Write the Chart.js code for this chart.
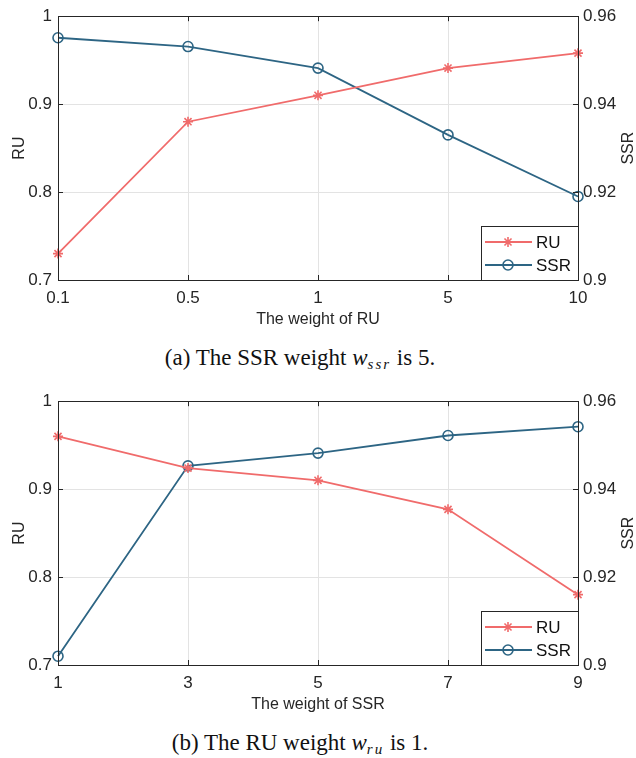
<!DOCTYPE html>
<html>
<head>
<meta charset="utf-8">
<script src="https://cdn.jsdelivr.net/npm/chart.js@4"></script>
<style>
  html, body { margin: 0; padding: 0; background: #fff; }
  body { width: 636px; height: 758px; position: relative; overflow: hidden; }
  .panel { position: absolute; left: 0; width: 636px; height: 385px; }
  .panel canvas { position: absolute; left: 0; top: 0; }
  .cap { position: absolute; left: 0; width: 600px; top: 344px; text-align: center;
         font-family: 'Liberation Serif', 'Times New Roman', serif; font-size: 23px; color: #111; line-height: 28px; }
  .cap i { font-style: italic; }
  .cap sub { font-size: 15px; vertical-align: -4px; line-height: 0; letter-spacing: 2px; }
</style>
</head>
<body>
<div class="panel" style="top:0px">
  <canvas id="cA" width="636" height="335"></canvas>
  <div class="cap">(a) The SSR weight <i>w</i><sub><i>ssr</i></sub> is 5.</div>
</div>
<div class="panel" style="top:385px">
  <canvas id="cB" width="636" height="335"></canvas>
  <div class="cap">(b) The RU weight <i>w</i><sub><i>ru</i></sub> is 1.</div>
</div>
<script>
// ---- data ----
const catsA = ['0.1', '0.5', '1', '5', '10'];
const ruA   = [0.730, 0.880, 0.910, 0.941, 0.958];
const ssrA  = [0.9551, 0.9531, 0.9482, 0.9330, 0.9190];

const catsB = ['1', '3', '5', '7', '9'];
const ruB   = [0.960, 0.924, 0.910, 0.877, 0.780];
const ssrB  = [0.9020, 0.9453, 0.9482, 0.9522, 0.9542];

const xTitleA = 'The weight of RU';
const xTitleB = 'The weight of SSR';
const leftTitle = 'RU';
const rightTitle = 'SSR';
const seriesNames = ['RU', 'SSR'];

// ---- styles ----
const RED = '#f06b6b';
const BLUE = '#2d6584';
const AXIS = '#262626';
const GRID = '#e3e3e3';
const TICKFONT = "'Liberation Sans', Arial, sans-serif";
const TITLEFONT = "'Liberation Sans', Arial, sans-serif";

const fmt = v => String(parseFloat(Number(v).toFixed(2)));

const decor = {
  id: 'decor',
  afterDraw(chart, args, opts) {
    const ctx = chart.ctx;
    const a = chart.chartArea;
    const x = chart.scales.x, yl = chart.scales.y, yr = chart.scales.y1;
    ctx.save();
    // box
    ctx.strokeStyle = AXIS;
    ctx.lineWidth = 1;
    ctx.strokeRect(Math.round(a.left) + 0.5, Math.round(a.top) + 0.5,
                   Math.round(a.right - a.left), Math.round(a.bottom - a.top));
    // inward ticks
    const tl = 5;
    ctx.beginPath();
    x.ticks.forEach((t, i) => {
      const px = Math.round(x.getPixelForTick(i)) + 0.5;
      ctx.moveTo(px, a.bottom); ctx.lineTo(px, a.bottom - tl);
      ctx.moveTo(px, a.top); ctx.lineTo(px, a.top + tl);
    });
    yl.ticks.forEach(t => {
      const py = Math.round(yl.getPixelForValue(t.value)) + 0.5;
      ctx.moveTo(a.left, py); ctx.lineTo(a.left + tl, py);
    });
    yr.ticks.forEach(t => {
      const py = Math.round(yr.getPixelForValue(t.value)) + 0.5;
      ctx.moveTo(a.right, py); ctx.lineTo(a.right - tl, py);
    });
    ctx.stroke();

    // titles
    ctx.fillStyle = '#262626';
    ctx.font = '16px ' + TITLEFONT;
    ctx.textAlign = 'center';
    ctx.textBaseline = 'middle';
    ctx.fillText(opts.xTitle, (a.left + a.right) / 2, a.bottom + 40);
    ctx.font = '16px ' + TITLEFONT;
    const cy = (a.top + a.bottom) / 2;
    ctx.save(); ctx.translate(20, cy); ctx.rotate(-Math.PI / 2);
    ctx.fillText(leftTitle, 0, 0); ctx.restore();
    ctx.save(); ctx.translate(629, cy); ctx.rotate(-Math.PI / 2);
    ctx.fillText(rightTitle, 0, 0); ctx.restore();

    // legend box
    const bx = a.right - 97, by = a.bottom - 54, bw = 97, bh = 54;
    ctx.fillStyle = '#fff';
    ctx.fillRect(bx, by, bw, bh);
    ctx.strokeStyle = AXIS;
    ctx.strokeRect(Math.round(bx) + 0.5, Math.round(by) + 0.5, bw, bh);
    const rows = [by + 16, by + 39];
    chart.data.datasets.forEach((ds, i) => {
      const ry = rows[i];
      ctx.strokeStyle = ds.borderColor;
      ctx.lineWidth = ds.borderWidth;
      ctx.beginPath(); ctx.moveTo(bx + 4, ry); ctx.lineTo(bx + 51, ry); ctx.stroke();
      ctx.fillStyle = ds.pointBackgroundColor;
      ctx.strokeStyle = ds.pointBorderColor;
      ctx.lineWidth = ds.pointBorderWidth;
      Chart.helpers.drawPoint(ctx, {
        pointStyle: ds.pointStyle, radius: ds.pointRadius, rotation: 0,
        borderWidth: ds.pointBorderWidth
      }, bx + 27, ry);
      ctx.fillStyle = '#111';
      ctx.font = '17px ' + TICKFONT;
      ctx.textAlign = 'left';
      ctx.textBaseline = 'middle';
      ctx.fillText(ds.label, bx + 55, ry + 1);
    });
    ctx.restore();
  }
};

function makeChart(id, cats, ru, ssr, xTitle) {
  return new Chart(document.getElementById(id), {
    type: 'line',
    data: {
      labels: cats,
      datasets: [
        { label: seriesNames[0], data: ru, yAxisID: 'y', borderColor: RED, backgroundColor: RED,
          borderWidth: 1.8, pointStyle: 'star', pointRadius: 5, pointBorderWidth: 1.6,
          pointBorderColor: RED, pointBackgroundColor: RED, tension: 0 },
        { label: seriesNames[1], data: ssr, yAxisID: 'y1', borderColor: BLUE, backgroundColor: 'rgba(0,0,0,0)',
          borderWidth: 1.8, pointStyle: 'circle', pointRadius: 5, pointBorderWidth: 1.6,
          pointBorderColor: BLUE, pointBackgroundColor: 'rgba(0,0,0,0)', tension: 0 }
      ]
    },
    options: {
      responsive: false,
      animation: false,
      clip: false,
      layout: { padding: { top: 13, left: 0, right: 0, bottom: 0 } },
      plugins: { legend: { display: false }, tooltip: { enabled: false }, decor: { xTitle } },
      scales: {
        x: {
          type: 'category', offset: false,
          grid: { color: GRID, drawTicks: false },
          border: { display: false },
          ticks: { color: '#262626', font: { family: TICKFONT, size: 17 }, padding: 8, maxRotation: 0 },
          afterFit: s => { s.height = 55; }
        },
        y: {
          position: 'left', min: 0.7, max: 1.0,
          grid: { color: GRID, drawTicks: false },
          border: { display: false },
          ticks: { stepSize: 0.1, color: '#262626', font: { family: TICKFONT, size: 17 }, padding: 6, callback: fmt },
          afterFit: s => { s.width = 58; }
        },
        y1: {
          position: 'right', min: 0.9, max: 0.96,
          grid: { display: false, drawTicks: false },
          border: { display: false },
          ticks: { stepSize: 0.02, color: '#262626', font: { family: TICKFONT, size: 17 }, padding: 5, callback: fmt },
          afterFit: s => { s.width = 58; }
        }
      }
    },
    plugins: [decor]
  });
}

makeChart('cA', catsA, ruA, ssrA, xTitleA);
makeChart('cB', catsB, ruB, ssrB, xTitleB);
</script>
</body>
</html>
